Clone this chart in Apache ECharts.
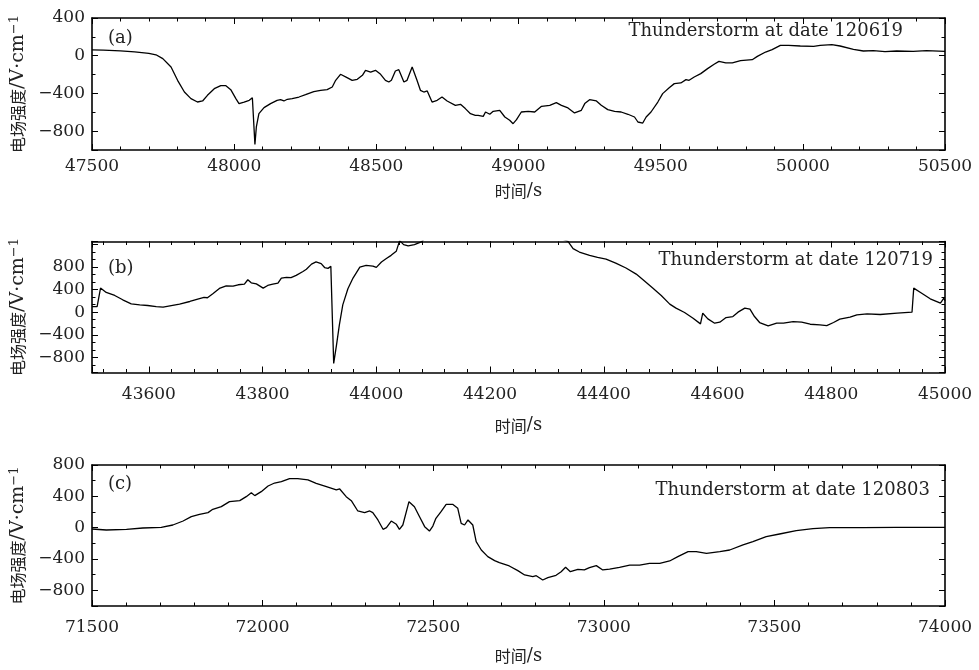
<!DOCTYPE html>
<html><head><meta charset="utf-8">
<script src="https://cdn.jsdelivr.net/npm/echarts@6/dist/echarts.min.js"></script>
<style>html,body{margin:0;padding:0;background:#fff}#c{width:979px;height:670px}</style>
</head><body><div id="c"></div>
<script>
// ---------------- data ----------------
const timeA = [47500,47540,47600,47650,47700,47725,47749,47778,47801,47825,47848,47871,47889,47906,47930,47953,47971,47988,48006,48017,48035,48053,48064,48070,48073,48078,48087,48105,48128,48151,48163,48175,48187,48204,48228,48251,48280,48304,48327,48345,48357,48374,48397,48415,48433,48451,48462,48480,48497,48515,48532,48544,48553,48567,48579,48597,48608,48626,48632,48643,48655,48667,48679,48696,48714,48731,48749,48778,48796,48813,48831,48848,48858,48876,48884,48899,48911,48934,48952,48969,48981,48993,49010,49034,49057,49081,49110,49133,49151,49174,49197,49221,49233,49250,49274,49291,49314,49338,49361,49385,49408,49420,49437,49449,49466,49490,49507,49530,49548,49571,49589,49600,49618,49641,49665,49688,49705,49729,49752,49781,49822,49840,49869,49892,49921,49950,49991,50038,50061,50102,50131,50178,50213,50248,50289,50330,50388,50435,50500];
const fieldA = [62,60,52,40,25,10,-31,-120,-261,-385,-455,-491,-480,-420,-350,-318,-318,-360,-455,-508,-491,-473,-445,-455,-940,-756,-615,-551,-508,-473,-466,-480,-462,-455,-438,-413,-381,-367,-360,-332,-261,-197,-233,-261,-250,-208,-155,-173,-155,-197,-261,-279,-261,-162,-148,-279,-261,-120,-113,-261,-367,-385,-374,-491,-473,-438,-480,-526,-515,-561,-615,-632,-632,-643,-597,-621,-590,-579,-650,-685,-721,-678,-597,-590,-597,-537,-526,-498,-526,-554,-607,-579,-508,-466,-480,-526,-572,-590,-597,-621,-650,-703,-714,-650,-597,-491,-402,-339,-296,-289,-254,-261,-226,-190,-137,-91,-60,-77,-77,-53,-42,-7,39,64,110,110,103,100,110,117,103,68,50,53,43,50,46,53,46];

const timeB = [43500,43509,43515,43525,43540,43554,43569,43584,43598,43613,43625,43637,43654,43672,43689,43697,43703,43713,43724,43736,43748,43757,43768,43774,43780,43789,43801,43809,43818,43827,43833,43842,43850,43859,43871,43877,43886,43894,43903,43909,43915,43920,43925,43930,43935,43941,43950,43959,43971,43982,43994,44000,44009,44017,44026,44035,44041,44048,44056,44067,44079,44085,44100,44150,44200,44250,44300,44337,44346,44357,44375,44389,44404,44421,44439,44457,44469,44486,44501,44516,44527,44542,44557,44570,44574,44583,44595,44604,44615,44627,44636,44648,44657,44665,44674,44689,44704,44716,44733,44748,44763,44780,44792,44804,44815,44833,44845,44863,44886,44916,44942,44945,44957,44974,44992,44998,45000];
const fieldB = [100,100,426,349,296,219,148,130,118,100,89,112,142,189,240,262,255,330,420,467,460,485,497,574,520,500,426,473,497,514,603,615,610,650,720,760,850,890,860,790,775,810,-905,-579,-225,130,414,603,798,828,816,792,887,946,1005,1076,1265,1194,1171,1194,1242,1300,1450,1650,1700,1600,1400,1254,1124,1064,1005,970,940,869,781,674,574,426,296,142,71,-6,-106,-207,-18,-118,-195,-177,-95,-77,0,71,53,-77,-183,-242,-195,-195,-166,-177,-213,-225,-237,-183,-124,-89,-47,-30,-41,-18,0,426,349,237,160,248,201];

const timeC = [71500,71542,71601,71649,71703,71737,71767,71791,71815,71840,71854,71879,71903,71933,71952,71967,71977,71996,72016,72035,72055,72079,72103,72133,72157,72187,72216,72226,72245,72260,72279,72299,72314,72323,72338,72353,72363,72377,72392,72401,72411,72429,72445,72460,72475,72489,72499,72508,72523,72538,72557,72572,72582,72592,72602,72616,72626,72641,72660,72680,72694,72723,72748,72768,72792,72802,72821,72836,72860,72875,72888,72902,72924,72943,72958,72978,72997,73017,73046,73076,73105,73134,73164,73193,73217,73247,73271,73301,73340,73369,73408,73437,73476,73515,73564,73613,73662,73760,73857,74000];
const fieldC = [-17,-30,-21,-4,5,34,85,140,170,192,234,268,332,345,396,447,409,460,532,570,587,626,626,609,566,523,481,494,396,345,213,192,213,192,98,-21,0,85,43,-21,34,332,268,140,13,-43,21,119,204,298,298,247,55,34,98,34,-179,-285,-370,-421,-447,-489,-549,-604,-625,-613,-668,-638,-608,-562,-506,-562,-532,-540,-511,-485,-540,-528,-506,-477,-477,-455,-455,-425,-370,-306,-306,-328,-306,-285,-221,-179,-115,-81,-38,-13,0,0,4,4];

// axis ranges, tick steps and tick labels
const xRangeA = [47500, 50500], xStepA = [500, 100];
const xRangeB = [43500, 45000], xStepB = [200, 40];
const xRangeC = [71500, 74000], xStepC = [500, 100];
const yRangeA = [-1000, 400],  yStepA = [400, 200];
const yRangeB = [-3200/3, 1250], yStepB = [400, 400/3];
const yRangeC = [-1000, 800],  yStepC = [400, 200];
const xLabelsA = [47500, 48000, 48500, 49000, 49500, 50000, 50500];
const xLabelsB = [43600, 43800, 44000, 44200, 44400, 44600, 44800, 45000];
const xLabelsC = [71500, 72000, 72500, 73000, 73500, 74000];
const yLabelsA = [-800, -400, 0, 400];
const yLabelsB = [-800, -400, 0, 400, 800];
const yLabelsC = [-800, -400, 0, 400, 800];
const panelTags = ['(a)', '(b)', '(c)'];
const panelTitles = ['Thunderstorm at date 120619', 'Thunderstorm at date 120719', 'Thunderstorm at date 120803'];
const xName = ['时间', '/s'];
const yName = ['电场强度', '/V·cm', '\u22121'];

// ---------------- layout / style ----------------
const SERIF = 'DejaVu Serif';
const CJK = 'Noto Sans CJK SC';
const TXT = '#222';
const grids = [
  {left: 92, top: 18, width: 853, height: 132},
  {left: 92, top: 241.5, width: 853, height: 131},
  {left: 92, top: 465, width: 853, height: 141}
];
const xLabelMargin = [8, 14, 13];
const xNameGap = [32, 44, 41];
const MAJ = 6, MIN = 3.5;

const xAxes = [], yAxes = [];
const inList = (v, list) => list.some(l => Math.abs(l - v) < 1e-6);
const signed = v => v < 0 ? '\u2212' + Math.abs(v) : String(v);

function mkAxis(list, o) {
  const a = {
    type: 'value', gridIndex: o.grid, position: o.pos, min: o.min, max: o.max,
    splitLine: {show: false},
    axisLine: {show: !!o.line, onZero: false, lineStyle: {color: '#000', width: 1.6}},
    axisTick: {show: true, inside: true, length: o.len, lineStyle: {color: '#000', width: 1}},
    axisLabel: {show: false},
    silent: true
  };
  if (o.interval) a.interval = o.step; else { a.minInterval = o.step; a.maxInterval = o.step; a.splitNumber = 40; }
  if (o.label) a.axisLabel = o.label;
  if (o.name) Object.assign(a, o.name);
  list.push(a);
  return list.length - 1;
}

const yRich = {
  cn: {fontFamily: CJK, fontSize: 16, color: TXT},
  lat: {fontFamily: SERIF, fontSize: 19, color: TXT},
  sup: {fontFamily: SERIF, fontSize: 13, color: TXT, verticalAlign: 'top'}
};
const xRich = {
  cn: {fontFamily: CJK, fontSize: 16, color: TXT},
  lat: {fontFamily: SERIF, fontSize: 18, color: TXT}
};

const series = [];
const graphics = [];
const xr = [xRangeA, xRangeB, xRangeC], xs = [xStepA, xStepB, xStepC];
const yr = [yRangeA, yRangeB, yRangeC], ys = [yStepA, yStepB, yStepC];
const xl = [xLabelsA, xLabelsB, xLabelsC], yl = [yLabelsA, yLabelsB, yLabelsC];
const T = [timeA, timeB, timeC], F = [fieldA, fieldB, fieldC];
const tagY = [38, 268, 484];
const titleXY = [[903, 31], [933, 260], [930, 490]];

for (let g = 0; g < 3; g++) {
  const [x0, x1] = xr[g], [xM, xm] = xs[g];
  const [y0, y1] = yr[g], [yM, ym] = ys[g];
  const xL = xl[g], yL = yl[g];
  const xMain = mkAxis(xAxes, {grid: g, pos: 'bottom', min: x0, max: x1, step: xM, len: MAJ, line: true,
    label: {show: true, margin: xLabelMargin[g], fontFamily: SERIF, fontSize: 17, color: TXT,
      formatter: v => inList(v, xL) ? String(Math.round(v)) : ''},
    name: {name: '{cn|' + xName[0] + '}{lat|' + xName[1] + '}', nameLocation: 'middle', nameGap: xNameGap[g],
      nameTextStyle: {rich: xRich}}});
  mkAxis(xAxes, {grid: g, pos: 'bottom', min: x0, max: x1, step: xm, len: MIN});
  mkAxis(xAxes, {grid: g, pos: 'top', min: x0, max: x1, step: xM, len: MAJ, line: true});
  mkAxis(xAxes, {grid: g, pos: 'top', min: x0, max: x1, step: xm, len: MIN});
  const isB = g === 1;
  const yMain = mkAxis(yAxes, {grid: g, pos: 'left', min: y0, max: y1, step: yM, len: MAJ, line: true,
    label: {show: true, margin: 7, fontFamily: SERIF, fontSize: 17, color: TXT,
      formatter: v => inList(v, yL) ? signed(Math.round(v)) : ''},
    name: {name: '{cn|' + yName[0] + '}{lat|' + yName[1] + '}{sup|' + yName[2] + '}', nameLocation: 'middle', nameRotate: 90, nameGap: 58,
      nameTextStyle: {rich: yRich}}});
  mkAxis(yAxes, {grid: g, pos: 'left', min: y0, max: y1, step: ym, len: MIN, interval: isB});
  mkAxis(yAxes, {grid: g, pos: 'right', min: y0, max: y1, step: yM, len: MAJ, line: true});
  mkAxis(yAxes, {grid: g, pos: 'right', min: y0, max: y1, step: ym, len: MIN, interval: isB});

  series.push({
    type: 'line', xAxisIndex: xMain, yAxisIndex: yMain,
    data: T[g].map((t, i) => [t, F[g][i]]),
    showSymbol: false, symbol: 'none', clip: true,
    lineStyle: {color: '#000', width: 1.3}
  });

  graphics.push({type: 'text', x: 108, y: tagY[g], style: {text: panelTags[g], fontFamily: SERIF, fontSize: 18, fill: TXT, textVerticalAlign: 'middle'}});
  graphics.push({type: 'text', x: titleXY[g][0], y: titleXY[g][1], style: {text: panelTitles[g], fontFamily: SERIF, fontSize: 18, fill: TXT, textAlign: 'right', textVerticalAlign: 'middle'}});
}

const chart = echarts.init(document.getElementById('c'), null, {renderer: 'canvas'});
chart.setOption({
  animation: false,
  backgroundColor: '#fff',
  grid: grids,
  xAxis: xAxes,
  yAxis: yAxes,
  series: series,
  graphic: graphics
});
</script>
</body></html>
